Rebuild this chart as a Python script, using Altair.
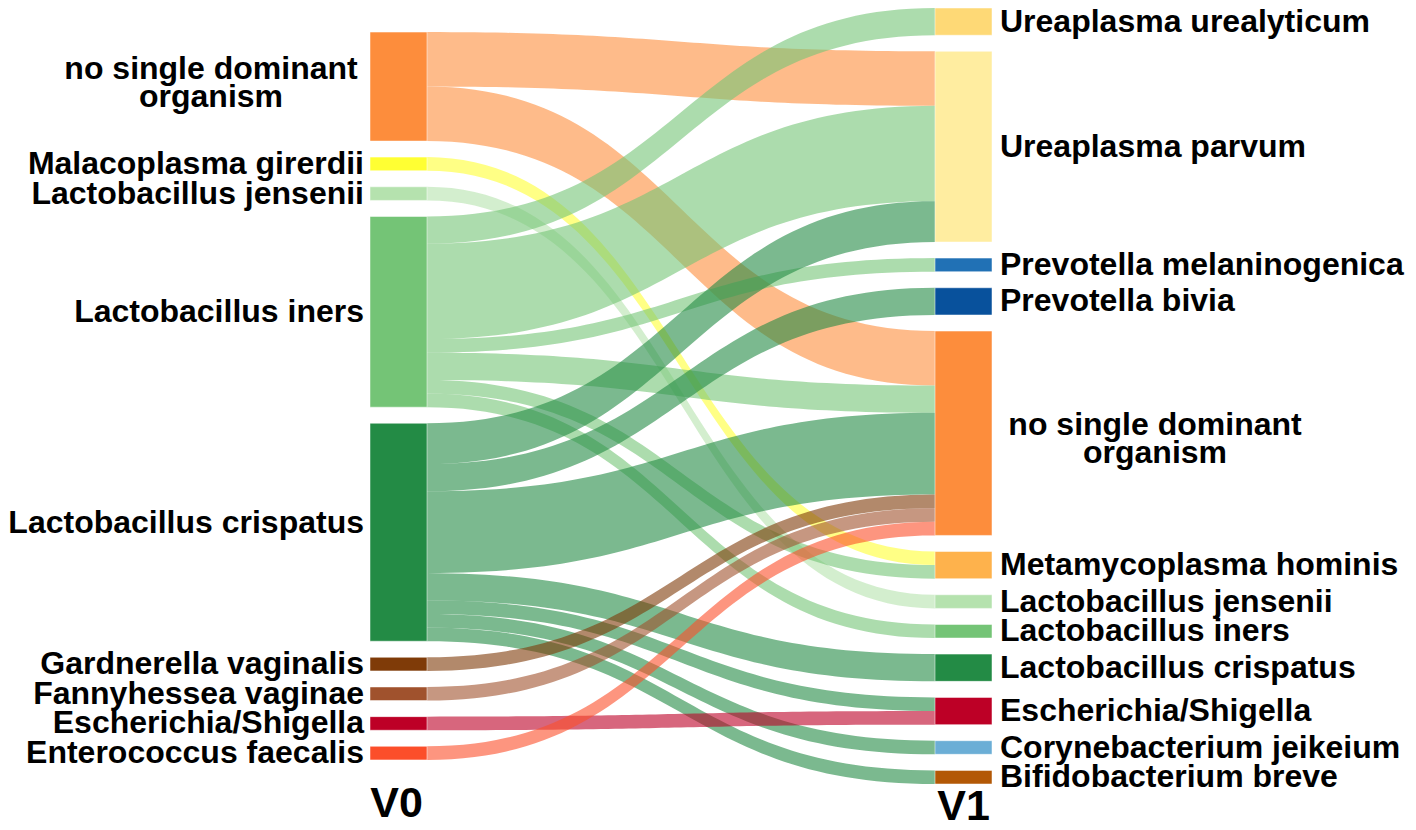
import altair as alt
import numpy as np
import pandas as pd

# ---------------- data ----------------
left_nodes = [
    "no single dominant organism", "Malacoplasma girerdii", "Lactobacillus jensenii",
    "Lactobacillus iners", "Lactobacillus crispatus", "Gardnerella vaginalis",
    "Fannyhessea vaginae", "Escherichia/Shigella", "Enterococcus faecalis",
]
left_colors = ["#fd8d3c", "#ffff33", "#b5e2ae", "#74c476", "#238b45",
               "#7f3b08", "#a0522d", "#bd0026", "#fc4e2a"]

right_nodes = [
    "Ureaplasma urealyticum", "Ureaplasma parvum", "Prevotella melaninogenica",
    "Prevotella bivia", "no single dominant organism", "Metamycoplasma hominis",
    "Lactobacillus jensenii", "Lactobacillus iners", "Lactobacillus crispatus",
    "Escherichia/Shigella", "Corynebacterium jeikeium", "Bifidobacterium breve",
]
right_colors = ["#fed976", "#ffeda0", "#2171b5", "#08519c", "#fd8d3c", "#feb24c",
                "#b5e2ae", "#74c476", "#238b45", "#bd0026", "#6baed6", "#b35806"]

link_source = [0, 0, 1, 2, 3, 3, 3, 3, 3, 3, 4, 4, 4, 4, 4, 4, 4, 5, 6, 7, 8]
link_target = [1, 4, 5, 6, 0, 1, 2, 4, 5, 7, 1, 3, 4, 8, 9, 10, 11, 4, 4, 9, 4]
link_value  = [4, 4, 1, 1, 2, 7, 1, 2, 1, 1, 3, 2, 6, 2, 1, 1, 1, 1, 1, 1, 1]

column_titles = ["V0", "V1"]

# ---------------- layout (sankey) ----------------
W, H = 1400, 814
GAP = 1.178                 # node padding in sample units
LX0, LX1 = 362, 419         # left column
RX0, RX1 = 927, 984         # right column
PX_TOP, PX_BOT = 0, 776     # pixel extent of the taller column

n_left, n_right = len(left_nodes), len(right_nodes)
lval = [0] * n_left
rval = [0] * n_right
for s, t, v in zip(link_source, link_target, link_value):
    lval[s] += v
    rval[t] += v


def stack(vals):
    tops, y = [], 0.0
    for v in vals:
        tops.append(y)
        y += v + GAP
    return tops, y - GAP


ltops, ltot = stack(lval)
rtops, rtot = stack(rval)
total = max(ltot, rtot)
loff, roff = (total - ltot) / 2, (total - rtot) / 2
ltops = [v + loff for v in ltops]
rtops = [v + roff for v in rtops]
px_per_unit = (PX_BOT - PX_TOP) / total
ydom = [-PX_TOP / px_per_unit, (H - PX_TOP) / px_per_unit]

# link stacking
order_src = sorted(range(len(link_value)), key=lambda k: (link_source[k], link_target[k]))
order_tgt = sorted(range(len(link_value)), key=lambda k: (link_target[k], link_source[k]))
src_y = {}
cur = list(ltops)
for k in order_src:
    s = link_source[k]
    src_y[k] = (cur[s], cur[s] + link_value[k])
    cur[s] += link_value[k]
tgt_y = {}
cur = list(rtops)
for k in order_tgt:
    t = link_target[k]
    tgt_y[k] = (cur[t], cur[t] + link_value[k])
    cur[t] += link_value[k]

rows = []
ts = np.linspace(0, 1, 61)
d = RX0 - LX1
for k in range(len(link_value)):
    a0, a1 = src_y[k]
    b0, b1 = tgt_y[k]
    for t in ts:
        x = LX1 + d * (1.5 * t * (1 - t) + t ** 3)
        s = 3 * t * t - 2 * t ** 3
        rows.append({
            "link": f"L{k:02d}", "t": t, "x": x,
            "y0": a0 + (b0 - a0) * s, "y1": a1 + (b1 - a1) * s,
            "color": left_colors[link_source[k]],
        })
link_df = pd.DataFrame(rows)

node_rows = []
for i, name in enumerate(left_nodes):
    node_rows.append({"name": name, "x0": LX0, "x1": LX1, "y0": ltops[i],
                      "y1": ltops[i] + lval[i], "color": left_colors[i], "side": "L"})
for i, name in enumerate(right_nodes):
    node_rows.append({"name": name, "x0": RX0, "x1": RX1, "y0": rtops[i],
                      "y1": rtops[i] + rval[i], "color": right_colors[i], "side": "R"})
node_df = pd.DataFrame(node_rows)

# label nudges in pixels (style)
nudge = {("L", "Lactobacillus crispatus"): -9,
         ("L", "no single dominant organism"): -18,
         ("R", "no single dominant organism"): -8}
lab = node_df.copy()
lab["ym"] = (lab["y0"] + lab["y1"]) / 2 + [nudge.get((r.side, r.name), 0) / px_per_unit
                                          for r in lab.itertuples()]
lab["multi"] = lab["name"].str.len() > 25
lab["text"] = lab["name"].str.replace("no single dominant organism",
                                      "no single dominant\norganism")
lab["lx"] = np.where(lab["side"] == "L", LX0, RX1)

xs = alt.Scale(domain=[0, W], nice=False, zero=False)
ys = alt.Scale(domain=ydom, nice=False, zero=False, reverse=True)
FONT = "Liberation Sans"

links = alt.Chart(link_df).mark_area(opacity=0.6, interpolate="linear").encode(
    x=alt.X("x:Q", scale=xs, axis=None),
    y=alt.Y("y0:Q", scale=ys, axis=None),
    y2="y1:Q",
    color=alt.Color("color:N", scale=None),
    detail="link:N",
)

nodes = alt.Chart(node_df).mark_rect(stroke="white", strokeWidth=0.5).encode(
    x=alt.X("x0:Q", scale=xs, axis=None), x2="x1:Q",
    y=alt.Y("y0:Q", scale=ys, axis=None), y2="y1:Q",
    color=alt.Color("color:N", scale=None),
)

def labels(side, multi, align, dx):
    src = lab[(lab["side"] == side) & (lab["multi"] == multi)]
    return alt.Chart(src).mark_text(
        font=FONT, fontWeight="bold", fontSize=32, align=align, baseline="middle",
        dx=dx, lineBreak="\n", lineHeight=28, color="black",
    ).encode(
        x=alt.X("lx:Q", scale=xs, axis=None),
        y=alt.Y("ym:Q", scale=ys, axis=None),
        text="text:N",
    )

lab_l = labels("L", False, "right", -6)
lab_r = labels("R", False, "left", 8)
lab_lm = labels("L", True, "center", -159)
lab_rm = labels("R", True, "center", 163)

title_df = pd.DataFrame({
    "text": column_titles,
    "x": [(LX0 + LX1) / 2 - 2, (RX0 + RX1) / 2],
    "y": [ydom[1] - 5 / px_per_unit, ydom[1] - 2 / px_per_unit],
})
titles = alt.Chart(title_df).mark_text(
    font=FONT, fontWeight="bold", fontSize=43, align="center", baseline="alphabetic",
    color="black",
).encode(
    x=alt.X("x:Q", scale=xs, axis=None),
    y=alt.Y("y:Q", scale=ys, axis=None),
    text="text:N",
)

chart = alt.layer(links, nodes, lab_l, lab_r, lab_lm, lab_rm, titles).properties(
    width=W, height=H, padding=0,
    autosize=alt.AutoSizeParams(type="none"),
    background="white",
).configure_view(stroke=None)

chart.save("out.html", embed_options={"renderer": "svg", "actions": False})
